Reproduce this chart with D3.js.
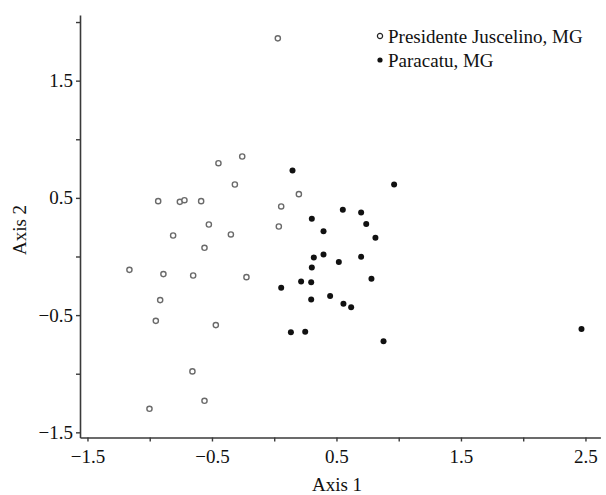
<!DOCTYPE html>
<html>
<head>
<meta charset="utf-8">
<script src="https://cdn.jsdelivr.net/npm/d3@7"></script>
<style>
    body { margin: 0; background: #fff; }
    text { font-family: "Liberation Serif", "DejaVu Serif", serif; fill: #111; }
</style>
</head>
<body>
<div class="chart-container"></div>
<script>
// Chart params
const width = 606;
const height = 495;

// Presidente Juscelino, MG (open circles)
const pjAxis1 = [0.029, -0.257, -0.448, -0.316, 0.198, -0.932, -0.758, -0.721, -0.587, 0.056,
    -0.525, -0.812, -0.348, 0.037, -0.560, -1.163, -0.890, -0.651, -0.223, -0.916,
    -0.951, -0.469, -0.657, -0.560, -1.002];
const pjAxis2 = [1.861, 0.853, 0.796, 0.614, 0.532, 0.472, 0.466, 0.480, 0.472, 0.427,
    0.273, 0.179, 0.188, 0.256, 0.074, -0.114, -0.150, -0.162, -0.176, -0.372,
    -0.549, -0.585, -0.980, -1.231, -1.299];

// Paracatu, MG (filled)
const paAxis1 = [0.147, 0.963, 0.551, 0.698, 0.302, 0.739, 0.396, 0.813, 0.396, 0.318,
    0.519, 0.698, 0.302, 0.781, 0.056, 0.216, 0.297, 0.297, 0.449, 0.556,
    0.618, 0.134, 0.249, 0.878, 2.468];
const paAxis2 = [0.734, 0.614, 0.398, 0.376, 0.321, 0.278, 0.216, 0.159, 0.017, -0.008,
    -0.046, -0.003, -0.093, -0.190, -0.267, -0.213, -0.219, -0.366, -0.338, -0.404,
    -0.432, -0.647, -0.642, -0.724, -0.619];

const xTicks = [-1.5, -1, -0.5, 0, 0.5, 1, 1.5, 2, 2.5];
const yTicks = [-1.5, -1, -0.5, 0, 0.5, 1, 1.5, 2];
const labelledTicks = [-1.5, -0.5, 0.5, 1.5, 2.5];

const legendLabels = ['Presidente Juscelino, MG', 'Paracatu, MG'];

// Scales
const x = d3.scaleLinear().domain([-1.56, 2.62]).range([80, 600.4]);
const y = d3.scaleLinear().domain([-1.544, 2.06]).range([437.5, 15]);

const fmt = d => labelledTicks.includes(d) ? d3.format('.1f')(d) : '';

const svg = d3.select('.chart-container')
    .append('svg')
    .attr('width', width)
    .attr('height', height);

// X axis
const gx = svg.append('g')
    .attr('transform', `translate(0,${y.range()[0]})`)
    .call(d3.axisBottom(x).tickValues(xTicks).tickFormat(fmt).tickSize(4).tickSizeOuter(0));

// Y axis
const gy = svg.append('g')
    .attr('transform', `translate(${x.range()[0]},0)`)
    .call(d3.axisLeft(y).tickValues(yTicks).tickFormat(fmt).tickSize(4).tickSizeOuter(0));

[gx, gy].forEach(g => {
    g.select('.domain').attr('stroke', '#3a3a3a').attr('stroke-width', 1.6);
    g.selectAll('.tick line').attr('stroke', '#3a3a3a').attr('stroke-width', 1.4);
    g.selectAll('.tick text')
        .style('font-family', '"Liberation Serif", serif')
        .style('font-size', '19px')
        .attr('fill', '#111');
});
gx.selectAll('.tick text').attr('dy', '0.95em');
gy.selectAll('.tick text').attr('x', -7);

// Axis titles
svg.append('text')
    .attr('x', 337)
    .attr('y', 491)
    .attr('text-anchor', 'middle')
    .style('font-size', '19px')
    .text('Axis 1');

svg.append('text')
    .attr('transform', 'translate(26,230) rotate(-90)')
    .attr('text-anchor', 'middle')
    .style('font-size', '19px')
    .text('Axis 2');

// Points
const pjData = pjAxis1.map((v, i) => ({ a1: v, a2: pjAxis2[i] }));
const paData = paAxis1.map((v, i) => ({ a1: v, a2: paAxis2[i] }));

svg.selectAll('.pj')
    .data(pjData)
    .enter()
    .append('circle')
    .attr('class', 'pj')
    .attr('cx', d => x(d.a1))
    .attr('cy', d => y(d.a2))
    .attr('r', 2.6)
    .attr('fill', '#fff')
    .attr('stroke', '#6a6a6a')
    .attr('stroke-width', 1.4);

svg.selectAll('.pa')
    .data(paData)
    .enter()
    .append('circle')
    .attr('class', 'pa')
    .attr('cx', d => x(d.a1))
    .attr('cy', d => y(d.a2))
    .attr('r', 3)
    .attr('fill', '#111');

// Legend
const legend = svg.append('g').attr('transform', 'translate(380,36)');

legend.append('circle')
    .attr('cx', 0).attr('cy', 0).attr('r', 2.6)
    .attr('fill', '#fff').attr('stroke', '#222').attr('stroke-width', 1.2);
legend.append('circle')
    .attr('cx', 0).attr('cy', 24).attr('r', 2.6)
    .attr('fill', '#111');

legend.selectAll('.legend-label')
    .data(legendLabels)
    .enter()
    .append('text')
    .attr('class', 'legend-label')
    .attr('x', 8)
    .attr('y', (d, i) => i * 24 + 7)
    .style('font-size', '19px')
    .text(d => d);
</script>
</body>
</html>
